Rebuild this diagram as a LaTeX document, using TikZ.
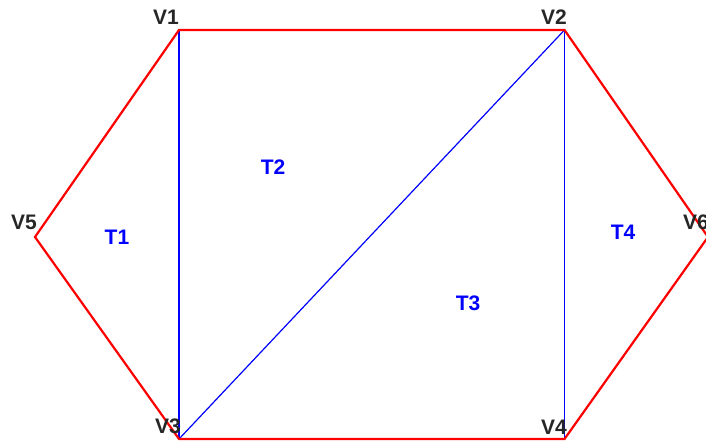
\documentclass[tikz,border=0pt]{standalone}
\usepackage{fontspec}
\setmainfont{Liberation Sans}
\begin{document}
\begin{tikzpicture}[x=1pt,y=1pt,
  vlabel/.style={font=\fontsize{21}{21}\selectfont\bfseries, text=black!85, inner sep=0pt},
  tlabel/.style={font=\fontsize{21}{21}\selectfont\bfseries, text=blue, inner sep=0pt},
  bound/.style={draw=red, line width=2.2pt, line join=miter},
  inner/.style={draw=blue, line width=1.2pt}]
\useasboundingbox (0,0) rectangle (706,441);
\coordinate (v1) at (179,411);
\coordinate (v2) at (564.5,411);
\coordinate (v3) at (179,2);
\coordinate (v4) at (564.5,2);
\coordinate (v5) at (35,204);
\coordinate (v6) at (708,204);
\draw[inner] (v1) -- (v3);
\draw[inner] (v2) -- (v3);
\draw[inner] (v2) -- (v4);
\draw[bound] (v1) -- (v2) -- (v6) -- (v4) -- (v3) -- (v5) -- cycle;
\node[vlabel] (l1) at (166,424) {V1};
\node[vlabel] (l2) at (554,424) {V2};
\node[vlabel] (l3) at (168,15) {V3};
\node[vlabel] (l4) at (554,14) {V4};
\node[vlabel] (l5) at (24,219) {V5};
\node[vlabel] (l6) at (696,219) {V6};
\node[tlabel] (t1) at (117,204) {T1};
\node[tlabel] (t2) at (273,274) {T2};
\node[tlabel] (t3) at (468,137.5) {T3};
\node[tlabel] (t4) at (623,208.5) {T4};
\end{tikzpicture}
\end{document}
